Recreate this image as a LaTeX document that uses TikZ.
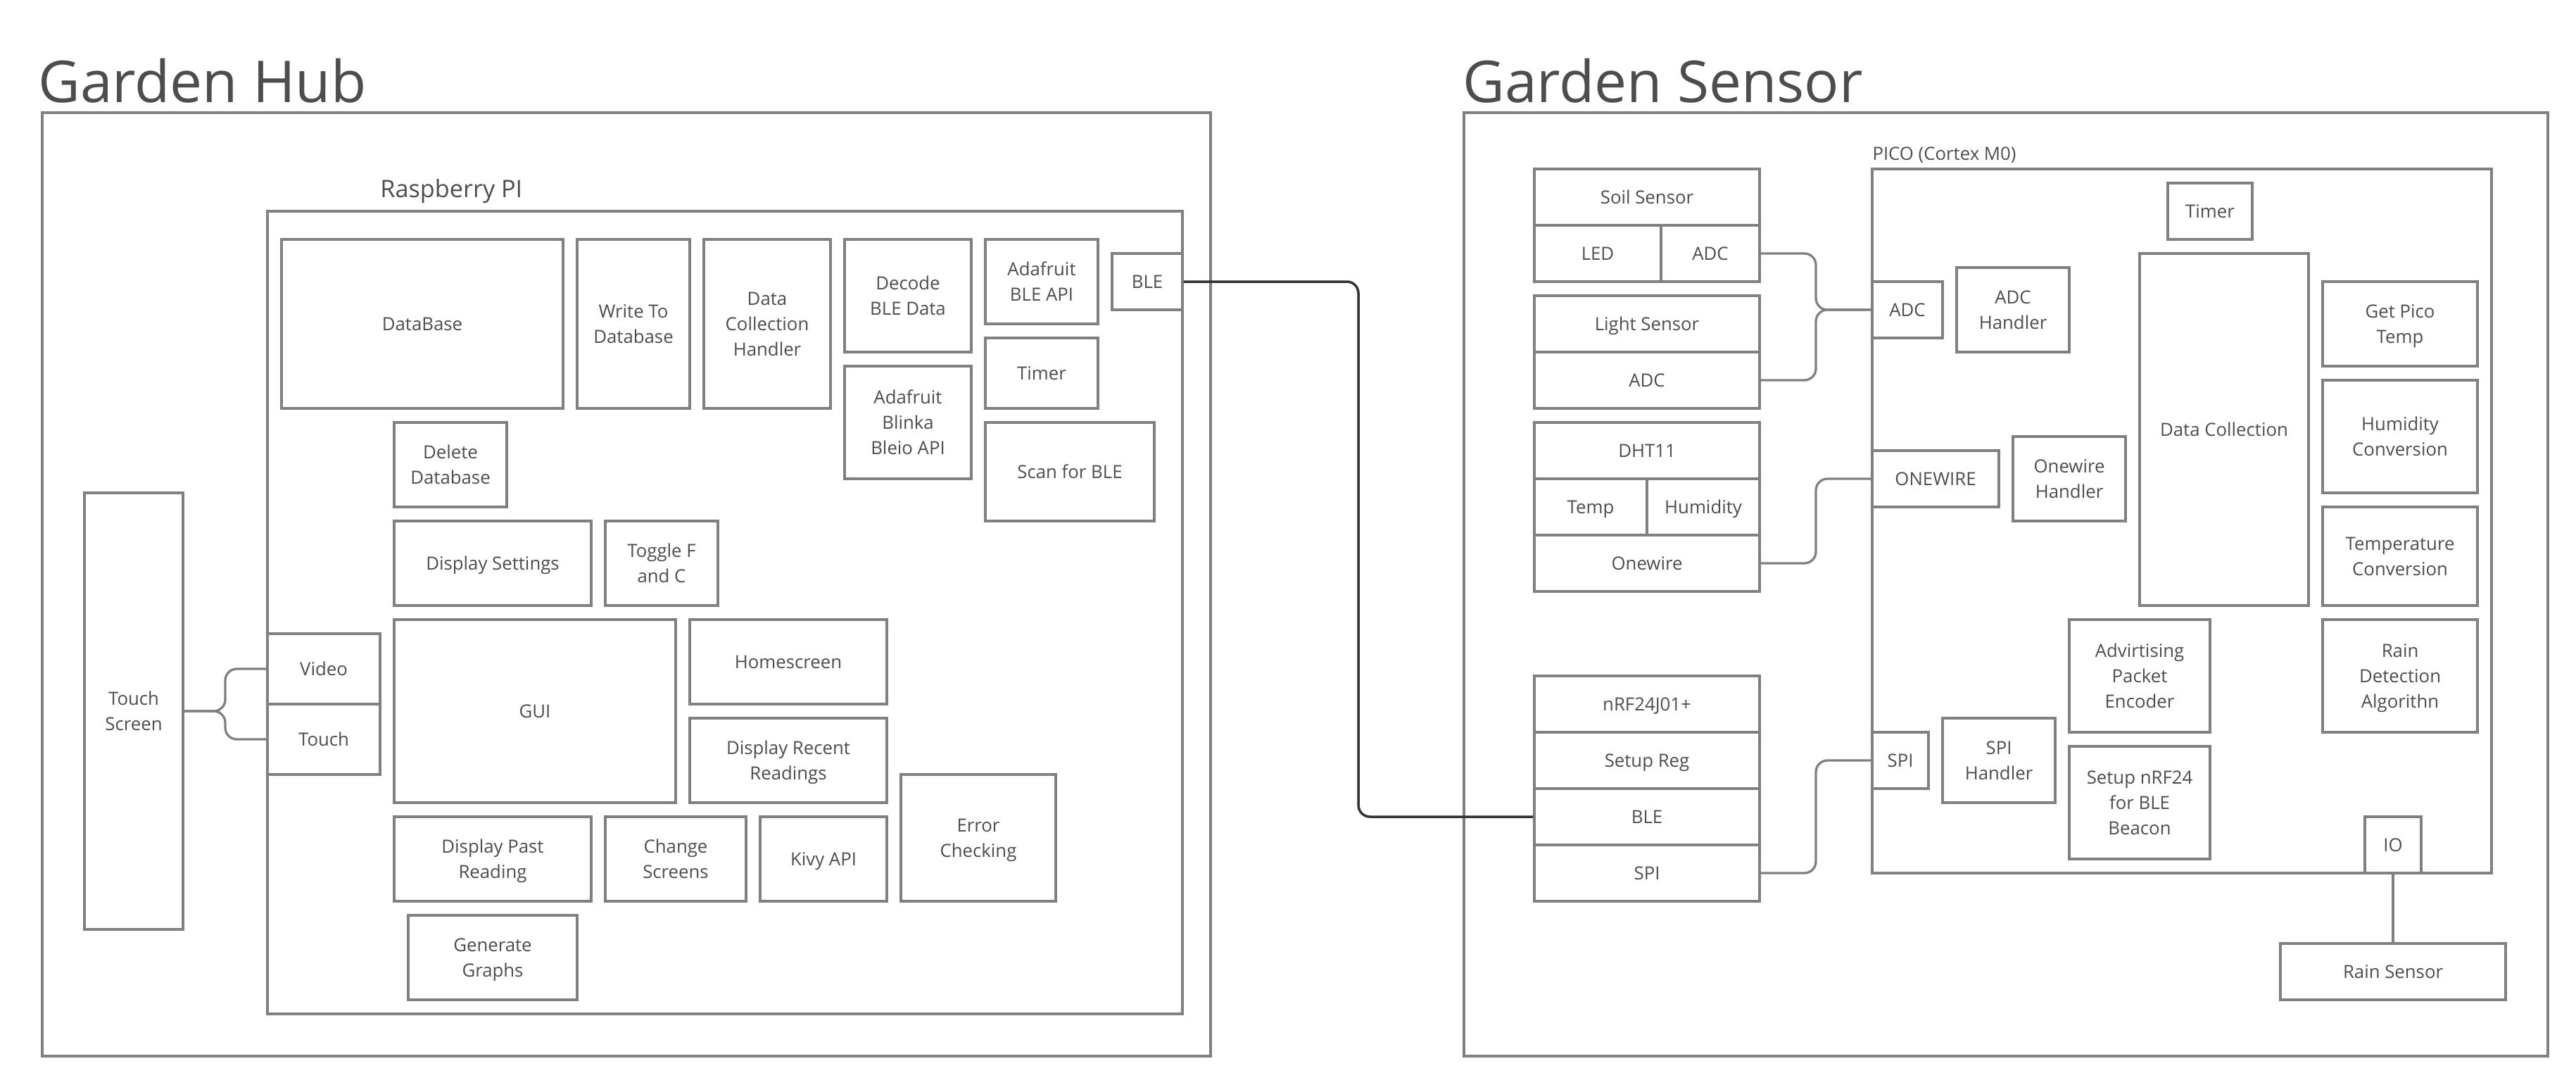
\documentclass[tikz,border=0pt]{standalone}
\usepackage{fontspec}
\setmainfont{Open Sans}
\definecolor{linegray}{HTML}{808080}
\definecolor{textgray}{HTML}{4D4D4D}
\definecolor{wire}{HTML}{333333}
\begin{document}
\begin{tikzpicture}[x=0.3cm,y=-0.3cm,
    wh/.style 2 args={minimum width=#1*0.3cm,minimum height=#2*0.3cm},
    blk/.style={draw=linegray,line width=1.4pt,text=textgray,align=center,inner sep=0pt,
        font=\fontsize{11}{15.3}\selectfont,text height=8.2pt,text depth=0pt},
    two/.style={text height=23.5pt},
    three/.style={text height=38.8pt},
    frame/.style={draw=linegray,line width=1.4pt,inner sep=0pt},
    heading/.style={text=textgray,anchor=base west,inner sep=0pt,font=\fontsize{35}{40}\selectfont},
    sublabel/.style={text=textgray,anchor=base west,inner sep=0pt},
    link/.style={draw=linegray,line width=1.4pt,rounded corners=7pt},
    blelink/.style={draw=wire,line width=1.5pt,rounded corners=7pt}]
                \useasboundingbox (0,0) rectangle (183,77);

                \node[heading] (hubtitle) at (2.7,7.25) {Garden Hub};
                \node[frame,wh={83}{67}] (hub) at (44.5,41.5) {};
                \node[sublabel,font=\fontsize{14.6}{18}\selectfont] (rpilabel) at (27,14) {Raspberry PI};
                \node[frame,wh={65}{57}] (rpi) at (51.5,43.5) {};

                \node[blk,wh={20}{12}] (db) at (30,23) {DataBase};
                \node[blk,two,wh={8}{12}] (writedb) at (45,23) {Write To\\Database};
                \node[blk,three,wh={9}{12}] (collect) at (54.5,23) {Data\\Collection\\Handler};
                \node[blk,two,wh={9}{8}] (decode) at (64.5,21) {Decode\\BLE Data};
                \node[blk,two,wh={8}{6}] (bleapi) at (74,20) {Adafruit\\BLE API};
                \node[blk,wh={5}{4}] (hble) at (81.5,20) {BLE};
                \node[blk,wh={8}{5}] (htimer) at (74,26.5) {Timer};
                \node[blk,three,wh={9}{8}] (blinka) at (64.5,30) {Adafruit\\Blinka\\Bleio API};
                \node[blk,wh={12}{7}] (scan) at (76,33.5) {Scan for BLE};
                \node[blk,two,wh={8}{6}] (deldb) at (32,33) {Delete\\Database};
                \node[blk,wh={14}{6}] (settings) at (35,40) {Display Settings};
                \node[blk,two,wh={8}{6}] (toggle) at (47,40) {Toggle F\\and C};
                \node[blk,wh={20}{13}] (gui) at (38,50.5) {GUI};
                \node[blk,wh={14}{6}] (home) at (56,47) {Homescreen};
                \node[blk,two,wh={14}{6}] (recent) at (56,54) {Display Recent\\Readings};
                \node[blk,two,wh={11}{9}] (errors) at (69.5,59.5) {Error\\Checking};
                \node[blk,two,wh={14}{6}] (past) at (35,61) {Display Past\\Reading};
                \node[blk,two,wh={10}{6}] (change) at (48,61) {Change\\Screens};
                \node[blk,wh={9}{6}] (kivy) at (58.5,61) {Kivy API};
                \node[blk,two,wh={12}{6}] (graphs) at (35,68) {Generate\\Graphs};
                \node[blk,wh={8}{5}] (video) at (23,47.5) {Video};
                \node[blk,wh={8}{5}] (touch) at (23,52.5) {Touch};
                \node[blk,two,wh={7}{31}] (tscreen) at (9.5,50.5) {Touch\\Screen};

                \node[heading] (sensortitle) at (103.9,7.25) {Garden Sensor};
                \node[frame,wh={77}{67}] (sensor) at (142.5,41.5) {};
                \node[sublabel,font=\fontsize{11}{13}\selectfont] (picolabel) at (133,11.35) {PICO (Cortex M0)};
                \node[frame,wh={44}{50}] (pico) at (155,37) {};

                \node[blk,wh={16}{4}] (soil) at (117,14) {Soil Sensor};
                \node[blk,wh={9}{4}] (led) at (113.5,18) {LED};
                \node[blk,wh={7}{4}] (sadc) at (121.5,18) {ADC};
                \node[blk,wh={16}{4}] (light) at (117,23) {Light Sensor};
                \node[blk,wh={16}{4}] (ladc) at (117,27) {ADC};
                \node[blk,wh={16}{4}] (dht) at (117,32) {DHT11};
                \node[blk,wh={8}{4}] (temp) at (113,36) {Temp};
                \node[blk,wh={8}{4}] (humid) at (121,36) {Humidity};
                \node[blk,wh={16}{4}] (ow) at (117,40) {Onewire};
                \node[blk,wh={16}{4}] (nrf) at (117,50) {nRF24J01+};
                \node[blk,wh={16}{4}] (setreg) at (117,54) {Setup Reg};
                \node[blk,wh={16}{4}] (rble) at (117,58) {BLE};
                \node[blk,wh={16}{4}] (rspi) at (117,62) {SPI};

                \node[blk,wh={6}{4}] (ptimer) at (157,15) {Timer};
                \node[blk,wh={5}{4}] (padc) at (135.5,22) {ADC};
                \node[blk,two,wh={8}{6}] (adchandler) at (143,22) {ADC\\Handler};
                \node[blk,wh={12}{25}] (pcollect) at (158,30.5) {Data Collection};
                \node[blk,two,wh={11}{6}] (picotemp) at (170.5,23) {Get Pico\\Temp};
                \node[blk,two,wh={11}{8}] (humconv) at (170.5,31) {Humidity\\Conversion};
                \node[blk,two,wh={11}{7}] (tempconv) at (170.5,39.5) {Temperature\\Conversion};
                \node[blk,three,wh={11}{8}] (raindet) at (170.5,48) {Rain\\Detection\\Algorithn};
                \node[blk,wh={9}{4}] (powire) at (137.5,34) {ONEWIRE};
                \node[blk,two,wh={8}{6}] (owhandler) at (147,34) {Onewire\\Handler};
                \node[blk,wh={4}{4}] (pspi) at (135,54) {SPI};
                \node[blk,two,wh={8}{6}] (spihandler) at (142,54) {SPI\\Handler};
                \node[blk,three,wh={10}{8}] (encoder) at (152,48) {Advirtising\\Packet\\Encoder};
                \node[blk,three,wh={10}{8}] (beacon) at (152,57) {Setup nRF24\\for BLE\\Beacon};
                \node[blk,wh={4}{4}] (io) at (170,60) {IO};
                \node[blk,wh={16}{4}] (rain) at (170,69) {Rain Sensor};

                \draw[link] (tscreen.east) -- (16,50.5) |- (video.west);
                \draw[link] (tscreen.east) -- (16,50.5) |- (touch.west);

                \draw[blelink] (hble.east) -- (96.5,20) |- (rble.west);

                \draw[link] (sadc.east) -- (129,18) |- (padc.west);
                \draw[link] (ladc.east) -- (129,27) |- (padc.west);
                \draw[link] (ow.east) -- (129,40) |- (powire.west);
                \draw[link] (rspi.east) -- (129,62) |- (pspi.west);
                \draw[link] (io.south) -- (rain.north);
\end{tikzpicture}
\end{document}
